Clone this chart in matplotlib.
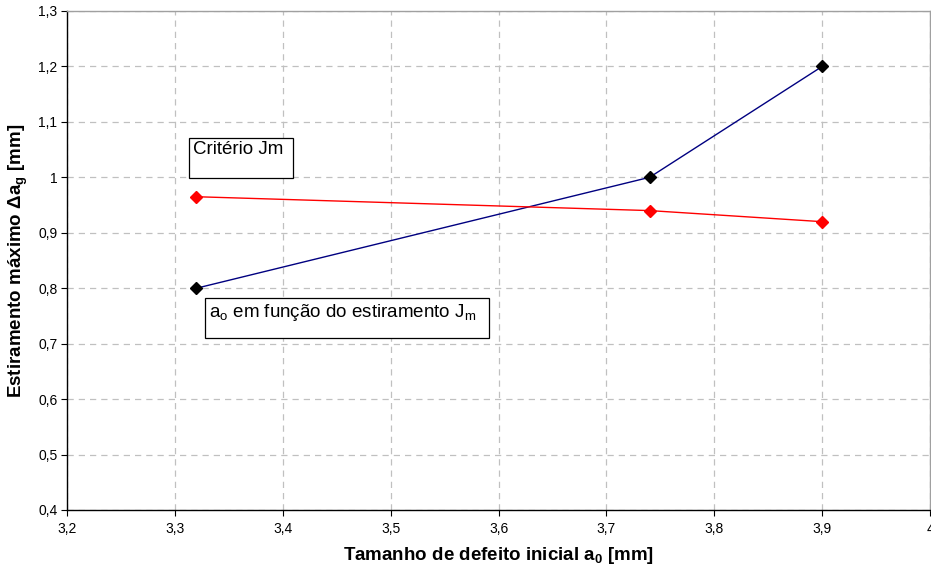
import matplotlib
matplotlib.use("Agg")
import matplotlib.pyplot as plt
from matplotlib.patches import Rectangle
from matplotlib.ticker import FuncFormatter, MultipleLocator

plt.rcParams['font.family'] = ['Liberation Sans', 'DejaVu Sans']
plt.rcParams['mathtext.fontset'] = 'custom'
plt.rcParams['mathtext.rm'] = 'Liberation Sans'
plt.rcParams['mathtext.it'] = 'Liberation Sans'
plt.rcParams['mathtext.bf'] = 'Liberation Sans:bold'
plt.rcParams['mathtext.default'] = 'regular'

# Initial defect size a0 [mm]
a0 = [3.32, 3.74, 3.9]
# Maximum stretch per criterion
criterio_jm = [0.965, 0.94, 0.92]
funcao_estiramento = [0.8, 1.0, 1.2]

fig = plt.figure(figsize=(9.31, 5.69), dpi=100)
ax = fig.add_axes([0.072, 0.1037, 0.927, 0.877])

ax.plot(a0, funcao_estiramento, color='#000080', lw=1.0, marker='D', ms=6,
        mfc='black', mec='black', zorder=3)
ax.plot(a0, criterio_jm, color='#FF0000', lw=1.0, marker='D', ms=6,
        mfc='#FF0000', mec='#FF0000', zorder=3)

ax.set_xlim(3.2, 4.0)
ax.set_ylim(0.4, 1.3)
ax.xaxis.set_major_locator(MultipleLocator(0.1))
ax.yaxis.set_major_locator(MultipleLocator(0.1))

fmt = FuncFormatter(lambda v, p: ('%g' % round(v, 2)).replace('.', ','))
ax.xaxis.set_major_formatter(fmt)
ax.yaxis.set_major_formatter(fmt)

ax.grid(True, color='#c0c0c0', linestyle=(0, (5, 4)), lw=0.9)
ax.tick_params(axis='both', labelsize=10, length=4, width=0.8, color='black',
               direction='out')
ax.tick_params(axis='x', pad=5)
ax.tick_params(axis='y', pad=3)

for side in ('left', 'bottom'):
    ax.spines[side].set_color('black')
    ax.spines[side].set_linewidth(1.0)
for side in ('top', 'right'):
    ax.spines[side].set_color('#a0a0a0')
    ax.spines[side].set_linewidth(1.0)

ax.set_xlabel(r'Tamanho de defeito inicial a$_\mathbf{0}$ [mm]', fontsize=13.5,
              fontweight='bold', labelpad=6)
ax.set_ylabel(r'Estiramento máximo Δa$_\mathbf{g}$ [mm]', fontsize=13.5,
              fontweight='bold', labelpad=6)

# Annotation boxes
ax.add_patch(Rectangle((3.313, 0.999), 0.0965, 0.072, fc='white', ec='black',
                       lw=0.9, zorder=4))
ax.text(3.3168, 1.066, 'Critério Jm', fontsize=13.5, va='top', ha='left', zorder=5)

ax.add_patch(Rectangle((3.328, 0.710), 0.2632, 0.0724, fc='white', ec='black',
                       lw=0.9, zorder=4))
ax.text(3.3316, 0.776, r'a$_o$ em função do estiramento J$_m$', fontsize=13.5,
        va='top', ha='left', zorder=5)

fig.savefig('out.png', dpi=100)
